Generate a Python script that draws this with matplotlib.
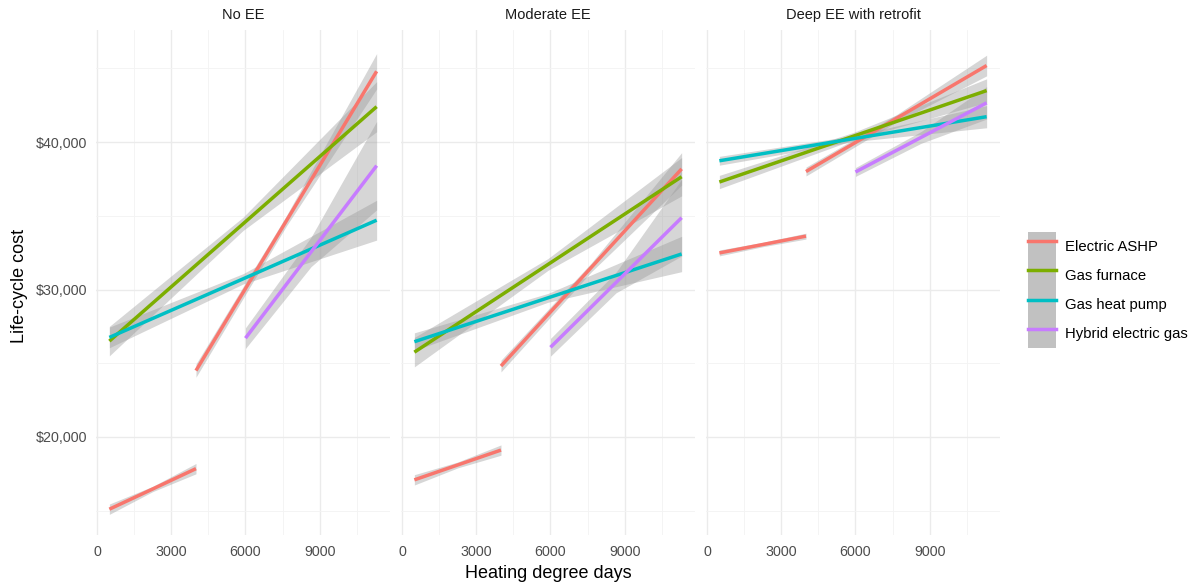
import numpy as np
import matplotlib
matplotlib.use("Agg")
import matplotlib.pyplot as plt
from matplotlib.lines import Line2D
from matplotlib.patches import Patch
from matplotlib.legend_handler import HandlerTuple
from matplotlib.ticker import FuncFormatter, MultipleLocator

plt.rcParams['font.family'] = ['Liberation Sans', 'DejaVu Sans']

# facets and heating systems
facets = ['No EE', 'Moderate EE', 'Deep EE with retrofit']
systems = ['Electric ASHP', 'Gas furnace', 'Gas heat pump', 'Hybrid electric gas']
colors = ['#F8766D', '#7CAE00', '#00BFC4', '#C77CFF']

# segments: ASHP (low HDD), ASHP (high HDD), furnace, heat pump, hybrid
seg_system = [0, 0, 1, 2, 3]
seg_hdd = [[500, 2250, 4000],
           [4000, 7650, 11300],
           [500, 5900, 11300],
           [500, 5900, 11300],
           [6000, 8650, 11300]]

# fitted life-cycle cost at start / middle / end of each segment
noee_fit = [[15100, 16470, 17850],
            [24500, 34650, 44800],
            [26500, 34450, 42400],
            [26750, 30720, 34700],
            [26700, 32550, 38400]]
moderate_fit = [[17090, 18100, 19110],
                [24810, 31500, 38180],
                [25750, 31700, 37650],
                [26460, 29435, 32410],
                [26080, 30475, 34870]]
deep_fit = [[32480, 33050, 33620],
            [38000, 41600, 45190],
            [37290, 40390, 43490],
            [38730, 40225, 41720],
            [37970, 40315, 42660]]

# half-width of the confidence band at the same points
noee_ci = [[350, 180, 350],
           [450, 350, 1200],
           [1000, 450, 1700],
           [700, 350, 1350],
           [700, 1000, 3000]]
moderate_ci = [[350, 200, 350],
               [400, 300, 1100],
               [1000, 400, 1300],
               [600, 300, 1200],
               [600, 700, 2600]]
deep_ci = [[200, 150, 200],
           [300, 250, 700],
           [450, 250, 800],
           [300, 200, 750],
           [300, 400, 1100]]

fits = [noee_fit, moderate_fit, deep_fit]
cis = [noee_ci, moderate_ci, deep_ci]

fig = plt.figure(figsize=(11.94, 5.83), dpi=100)
W, H = 1194, 583
panel_left = [96, 401, 706]
panel_w = 294
top, bottom = 30, 535

axes = []
for i, name in enumerate(facets):
    ax = fig.add_axes([panel_left[i] / W, 1 - bottom / H, panel_w / W, (bottom - top) / H])
    axes.append(ax)
    for s in range(len(seg_system)):
        x = np.array(seg_hdd[s])
        y = np.array(fits[i][s])
        e = np.array(cis[i][s])
        ax.fill_between(x, y - e, y + e, color='#999999', alpha=0.4, lw=0, zorder=2)
    for s in range(len(seg_system)):
        ax.plot(seg_hdd[s], fits[i][s], color=colors[seg_system[s]], lw=2.5,
                solid_capstyle='butt', zorder=3)

    ax.set_xlim(-40, 11840)
    ax.set_ylim(13350, 47600)
    ax.xaxis.set_major_locator(MultipleLocator(3000))
    ax.xaxis.set_minor_locator(MultipleLocator(1500))
    ax.yaxis.set_major_locator(MultipleLocator(10000))
    ax.yaxis.set_minor_locator(MultipleLocator(5000))
    ax.grid(which='major', color='#EBEBEB', lw=1.0, zorder=0)
    ax.grid(which='minor', color='#F3F3F3', lw=0.6, zorder=0)
    ax.set_axisbelow(True)
    for sp in ax.spines.values():
        sp.set_visible(False)
    ax.tick_params(which='both', length=0, labelsize=10.3, labelcolor='#4D4D4D')
    ax.tick_params(axis='x', pad=7)
    ax.tick_params(axis='y', pad=6)
    ax.set_title(name, fontsize=10.5, color='#1A1A1A', pad=8)
    if i == 0:
        ax.yaxis.set_major_formatter(FuncFormatter(lambda v, p: '${:,.0f}'.format(v)))
    else:
        ax.tick_params(axis='y', labelleft=False)

fig.text(548 / W, 1 - 573 / H, 'Heating degree days', fontsize=13, ha='center', va='center')
fig.text(20 / W, 1 - 286 / H, 'Life-cycle cost', fontsize=13, ha='center', va='center',
         rotation=90)

handles = [(Patch(facecolor='#999999', alpha=0.6, lw=0), Line2D([], [], color=c, lw=2.5))
           for c in colors]
fig.legend(handles, systems, handler_map={tuple: HandlerTuple(ndivide=1, pad=0)},
           loc='center left', bbox_to_anchor=(1028 / W, 1 - 290 / H), frameon=False,
           fontsize=10.7, labelspacing=0, handleheight=2.63, handlelength=1.88,
           handletextpad=0.6, borderpad=0, borderaxespad=0)

fig.savefig('out.png', dpi=100)
